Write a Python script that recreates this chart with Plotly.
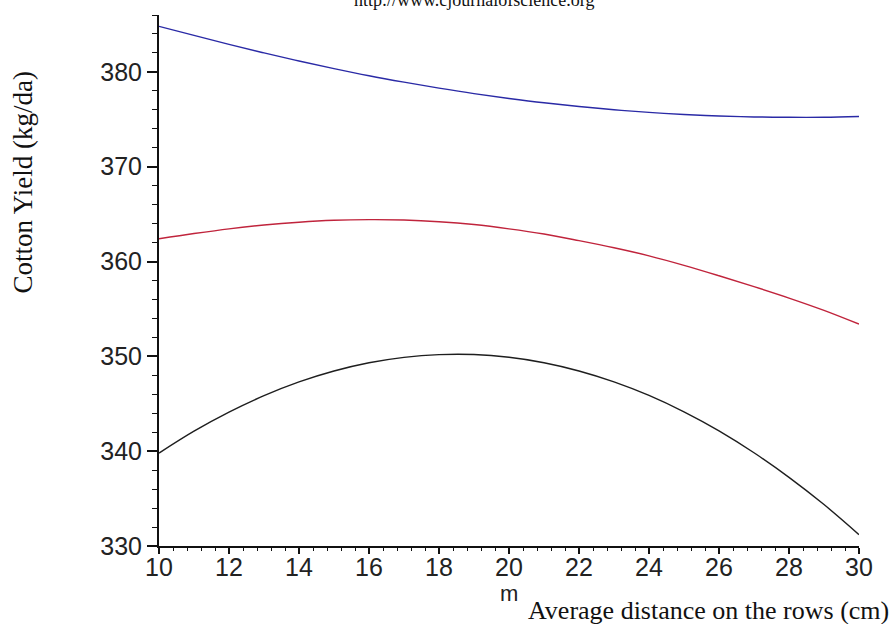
import plotly.graph_objects as go

x_cm = list(range(10, 31))

yield_blue = [384.8, 383.85, 382.9, 382.0, 381.15, 380.35, 379.6, 378.92, 378.29, 377.71,
              377.2, 376.74, 376.35, 376.01, 375.73, 375.51, 375.35, 375.25, 375.21, 375.22, 375.3]
yield_red = [362.4, 362.95, 363.45, 363.85, 364.15, 364.35, 364.42, 364.38, 364.2, 363.9,
             363.45, 362.9, 362.2, 361.45, 360.6, 359.6, 358.5, 357.35, 356.15, 354.85, 353.4]
yield_black = [339.8, 342.11, 344.12, 345.85, 347.3, 348.45, 349.32, 349.89, 350.18, 350.19,
               349.9, 349.33, 348.46, 347.31, 345.88, 344.15, 342.14, 339.83, 337.24, 334.37, 331.2]

x_ticks = list(range(10, 31, 2))
y_ticks = list(range(330, 381, 10))

fig = go.Figure()
for ys, col in [(yield_blue, "#2a2aa6"), (yield_red, "#c0243c"), (yield_black, "#1e1e1e")]:
    fig.add_trace(go.Scatter(x=x_cm, y=ys, mode="lines", line=dict(color=col, width=1.4, shape="spline"),
                             hoverinfo="skip"))

tickfont = dict(family="Liberation Sans, Arial, sans-serif", size=25, color="#222")

fig.update_layout(
    width=891, height=624,
    margin=dict(l=159, r=32, t=15, b=78),
    plot_bgcolor="white", paper_bgcolor="white",
    showlegend=False,
    xaxis=dict(range=[10, 30], tickvals=x_ticks, ticks="outside", ticklen=6, tickwidth=1.5,
               tickcolor="#111", showline=True, linecolor="#111", linewidth=2,
               showgrid=False, zeroline=False, tickfont=tickfont, ticklabelstandoff=-8,
               minor=dict(tick0=10, dtick=0.4, ticks="outside", ticklen=3, tickwidth=1.2, tickcolor="#111")),
    yaxis=dict(range=[330, 386], tickvals=y_ticks, ticks="outside", ticklen=10, tickwidth=1.5,
               tickcolor="#111", showline=True, linecolor="#111", linewidth=2,
               showgrid=False, zeroline=False, tickfont=tickfont,
               minor=dict(tick0=330, dtick=2, ticks="outside", ticklen=5, tickwidth=1.2, tickcolor="#111")),
)

serif = "Liberation Serif, Times New Roman, serif"
fig.add_annotation(text="Cotton Yield (kg/da)", textangle=-90, xref="paper", yref="paper",
                   x=-0.194, y=0.685, xanchor="center", yanchor="middle", showarrow=False,
                   font=dict(family=serif, size=27, color="#111"))
fig.add_annotation(text="Average distance on the rows (cm)", xref="paper", yref="paper",
                   x=1.046, y=-0.121, xanchor="right", yanchor="middle", showarrow=False,
                   font=dict(family=serif, size=26, color="#111"))
fig.add_annotation(text="m", xref="x", yref="paper", x=20, y=-0.089, xanchor="center", yanchor="middle",
                   showarrow=False, font=dict(family="Liberation Sans, Arial, sans-serif", size=22, color="#222"))
fig.add_annotation(text="http://www.cjournalofscience.org", xref="paper", yref="paper",
                   x=0.45, y=1.028, xanchor="center", yanchor="middle", showarrow=False,
                   font=dict(family=serif, size=18, color="#111"))

fig.write_html("out.html")
